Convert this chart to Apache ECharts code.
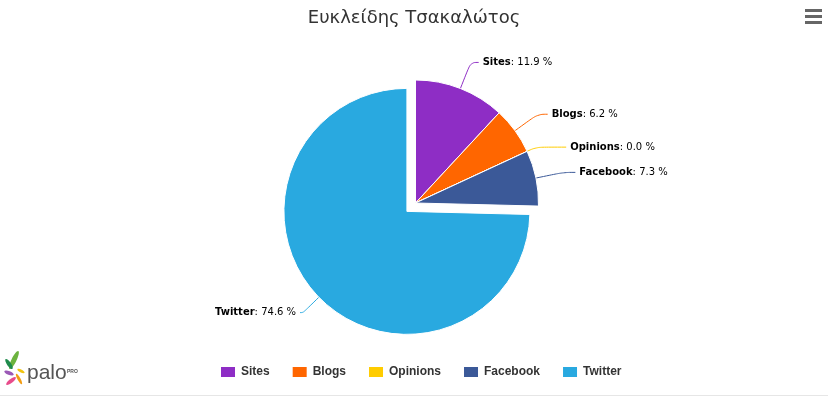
<!DOCTYPE html>
<html>
<head>
<meta charset="utf-8">
<title>Ευκλείδης Τσακαλώτος</title>
<script src="https://cdn.jsdelivr.net/npm/echarts@6/dist/echarts.min.js"></script>
<style>
  html, body { margin: 0; padding: 0; background: #fff; }
  #chart { width: 828px; height: 397px; }
</style>
</head>
<body>
<div id="chart"></div>
<script>
// data
var categories = ['Sites', 'Blogs', 'Opinions', 'Facebook', 'Twitter'];
var shares = [11.9, 6.2, 0.0, 7.3, 74.6];
var colors = ['#8e2dc5', '#ff6600', '#ffcc00', '#3b5998', '#29a9e0'];
var slicedOut = 'Twitter';

var myChart = echarts.init(document.getElementById('chart'), null, { renderer: 'canvas' });

// per slice connector lengths (Highcharts style labels)
var lineLen = {
  Sites: [28, 8],
  Blogs: [28, 10],
  Opinions: [10, 30],
  Facebook: [28, 12],
  Twitter: [22, 3]
};

var pieData = categories.map(function (name, i) {
  return {
    name: name,
    value: shares[i],
    selected: name === slicedOut,
    itemStyle: { color: colors[i] },
    labelLine: { length: lineLen[name][0], length2: lineLen[name][1] }
  };
});

var option = {
  animation: false,
  title: {
    text: 'Ευκλείδης Τσακαλώτος',
    left: 'center',
    top: 4,
    textStyle: {
      fontFamily: 'DejaVu Sans',
      fontSize: 18,
      fontWeight: 'normal',
      color: '#333333'
    }
  },
  legend: {
    left: 214,
    top: 360,
    itemWidth: 16,
    itemHeight: 12,
    itemGap: 21,
    icon: 'rect',
    data: categories,
    textStyle: {
      fontFamily: 'Liberation Sans, Arial, sans-serif',
      fontSize: 12,
      fontWeight: 'bold',
      color: '#333333'
    }
  },
  graphic: [
    // menu button
    { type: 'rect', shape: { x: 805, y: 9, width: 17, height: 3 }, style: { fill: '#666' } },
    { type: 'rect', shape: { x: 805, y: 15, width: 17, height: 3 }, style: { fill: '#666' } },
    { type: 'rect', shape: { x: 805, y: 21, width: 17, height: 3 }, style: { fill: '#666' } },
    // palo logo
    { type: 'ellipse', x: 14, y: 360, rotation: -0.45, shape: { cx: 0, cy: 0, rx: 2.5, ry: 10 }, style: { fill: '#6cb33f' } },
    { type: 'ellipse', x: 9, y: 364, rotation: 0.6, shape: { cx: 0, cy: 0, rx: 2, ry: 6 }, style: { fill: '#1f8b4c' } },
    { type: 'ellipse', x: 9, y: 373, rotation: 1.2, shape: { cx: 0, cy: 0, rx: 2, ry: 5 }, style: { fill: '#9b59b6' } },
    { type: 'ellipse', x: 11, y: 381, rotation: -0.9, shape: { cx: 0, cy: 0, rx: 2, ry: 6 }, style: { fill: '#e84c8b' } },
    { type: 'ellipse', x: 19, y: 379, rotation: 0.5, shape: { cx: 0, cy: 0, rx: 1.5, ry: 6 }, style: { fill: '#f39c12' } },
    { type: 'ellipse', x: 21, y: 371, rotation: 1.1, shape: { cx: 0, cy: 0, rx: 1.5, ry: 4 }, style: { fill: '#f1c40f' } },
    {
      type: 'text', left: 27, top: 363,
      style: { text: 'palo', fill: '#555555', fontFamily: 'Liberation Sans', fontSize: 21 }
    },
    {
      type: 'text', left: 67, top: 369,
      style: { text: 'PRO', fill: '#555555', fontFamily: 'Liberation Sans', fontSize: 5, fontWeight: 'bold' }
    },
    // bottom border
    { type: 'line', shape: { x1: 0, y1: 395.5, x2: 828, y2: 395.5 }, style: { stroke: '#e6e6e6', lineWidth: 1 } }
  ],
  series: [
    {
      name: 'Share',
      type: 'pie',
      center: [415.5, 203],
      radius: 123,
      startAngle: 90,
      clockwise: true,
      selectedMode: 'single',
      selectedOffset: 12,
      avoidLabelOverlap: false,
      itemStyle: {
        borderColor: '#ffffff',
        borderWidth: 1
      },
      label: {
        show: true,
        position: 'outside',
        distanceToLabelLine: 4,
        color: '#000000',
        fontFamily: 'DejaVu Sans',
        fontSize: 10,
        formatter: function (p) {
          return '{b|' + p.name + '}: ' + p.value.toFixed(1) + ' %';
        },
        rich: {
          b: { fontWeight: 'bold', fontFamily: 'DejaVu Sans', fontSize: 10, color: '#000000' }
        }
      },
      labelLine: {
        show: true,
        smooth: 0.4,
        lineStyle: { width: 1 }
      },
      emphasis: { scale: false },
      data: pieData
    }
  ]
};

myChart.setOption(option);
</script>
</body>
</html>
